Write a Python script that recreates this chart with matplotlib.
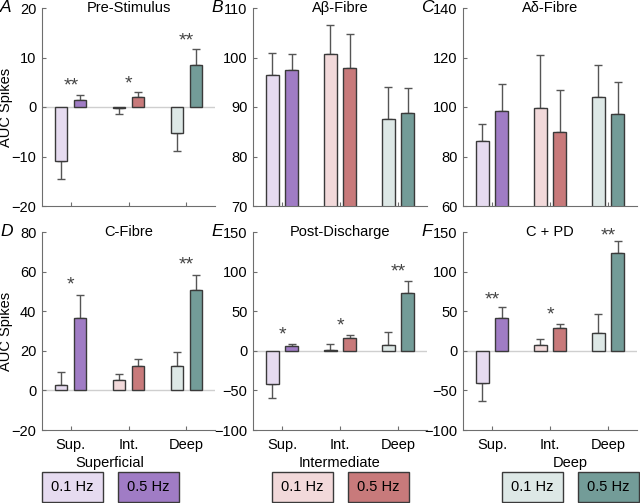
import matplotlib
matplotlib.use('Agg')
import matplotlib.pyplot as plt
import matplotlib.transforms as mtransforms
from matplotlib.patches import Rectangle
import numpy as np

plt.rcParams['font.family'] = ['Liberation Sans', 'DejaVu Sans']

# データ
groups = ['Sup.', 'Int.', 'Deep']
legend_titles = ['Superficial', 'Intermediate', 'Deep']
freqs = ['0.1 Hz', '0.5 Hz']
light_colors = ['#e6dbf0', '#f2d9da', '#dde8e6']
dark_colors = ['#a07cc5', '#c87a7b', '#739c98']

panels = ['A', 'B', 'C', 'D', 'E', 'F']
titles = ['Pre-Stimulus', 'A\u03b2-Fibre', 'A\u03b4-Fibre', 'C-Fibre', 'Post-Discharge', 'C + PD']
ylims = [(-20, 20), (70, 110), (60, 140), (-20, 80), (-100, 150), (-100, 150)]
yticks = [[-20, -10, 0, 10, 20], [70, 80, 90, 100, 110], [60, 80, 100, 120, 140],
          [-20, 0, 20, 40, 60, 80], [-100, -50, 0, 50, 100, 150], [-100, -50, 0, 50, 100, 150]]

# 0.1 Hz / 0.5 Hz の平均と誤差 (Sup., Int., Deep)
mean_01 = [[-10.9, -0.3, -5.3], [96.5, 100.7, 87.6], [86.4, 99.6, 104.0],
           [2.5, 5.4, 12.5], [-42.4, 1.3, 7.6], [-40.3, 6.8, 22.5]]
err_01 = [[3.6, 1.1, 3.5], [4.4, 5.8, 6.5], [6.6, 21.5, 13.0],
          [6.6, 3.0, 6.9], [17.6, 7.2, 15.7], [23.3, 8.0, 23.7]]
mean_05 = [[1.4, 2.1, 8.5], [97.5, 97.8, 88.7], [98.4, 89.9, 97.0],
           [36.4, 12.3, 50.8], [5.9, 16.5, 72.5], [42.0, 28.8, 123.7]]
err_05 = [[1.0, 0.9, 3.3], [3.2, 6.9, 5.1], [10.9, 17.1, 13.0],
          [11.8, 3.6, 7.5], [3.0, 3.4, 16.1], [13.0, 4.7, 15.3]]

# 有意差の星 (panel, group index, label, y)
stars = [(0, 0, '**', 5.3), (0, 1, '*', 5.7), (0, 2, '**', 14.3),
         (3, 0, '*', 55.6), (3, 2, '**', 65.8),
         (4, 0, '*', 25.8), (4, 1, '*', 38.0), (4, 2, '**', 106.0),
         (5, 0, '**', 70.0), (5, 1, '*', 51.0), (5, 2, '**', 151.0)]

W, H = 640, 503
fig = plt.figure(figsize=(W / 100, H / 100), dpi=100)

col_px = [(42, 215), (253, 427), (463, 637)]
row_px = [(8, 206), (232, 430)]

def px_axes(x0, x1, y0, y1):
    return fig.add_axes([x0 / W, 1 - y1 / H, (x1 - x0) / W, (y1 - y0) / H])

edge = '#3a3a3a'
spine_c = '#6e6e6e'
x = np.arange(1, 4)
bw = 0.21
off = 0.165
# アスタリスクはグリフが上寄りなので少し下げる
star_shift = mtransforms.ScaledTranslation(0, -5 / 100, fig.dpi_scale_trans)

for i in range(6):
    r, c = divmod(i, 3)
    x0, x1 = col_px[c]
    ax = px_axes(x0, x1, row_px[r][0], row_px[r][1])
    ax.set_xlim(0.5, 3.5)
    ax.set_ylim(*ylims[i])
    if ylims[i][0] < 0:
        ax.axhline(0, color='#cfcfcf', lw=1, zorder=0)
    for g in range(3):
        m1, e1 = mean_01[i][g], err_01[i][g]
        m2, e2 = mean_05[i][g], err_05[i][g]
        ax.bar(x[g] - off, m1, bw, color=light_colors[g], edgecolor=edge, lw=1, zorder=2)
        ax.bar(x[g] + off, m2, bw, color=dark_colors[g], edgecolor=edge, lw=1, zorder=2)
        for xx, m, e in [(x[g] - off, m1, e1), (x[g] + off, m2, e2)]:
            yerr = [[0], [e]] if m >= 0 else [[e], [0]]
            ax.errorbar(xx, m, yerr=yerr, fmt='none', ecolor='#555555', elinewidth=1,
                        capsize=3, capthick=1, zorder=1)
    for p, g, s, yy in stars:
        if p == i:
            ax.text(x[g], yy, s, ha='center', va='center', fontsize=14, color='#444444',
                    transform=ax.transData + star_shift, clip_on=False)
    ax.set_yticks(yticks[i])
    ax.set_yticklabels([str(t).replace('-', '\u2212') for t in yticks[i]])
    ax.set_xticks(x)
    if r == 1:
        ax.set_xticklabels(groups)
    else:
        ax.set_xticklabels([])
    for s in ['top', 'right']:
        ax.spines[s].set_visible(False)
    for s in ['left', 'bottom']:
        ax.spines[s].set_color(spine_c)
    ax.tick_params(direction='in', length=3, color=spine_c, labelsize=10.5, pad=4)
    ax.tick_params(axis='x', labelsize=10.5, pad=6)
    ax.text(0.5, 1.0, titles[i], transform=ax.transAxes, ha='center', va='center', fontsize=10.5)
    if c == 0:
        ax.set_ylabel('AUC Spikes', fontsize=10.5)
        ax.yaxis.set_label_coords(-29 / (x1 - x0), 0.5)
    fig.text((x0 - 42) / W, 1 - row_px[r][0] / H, panels[i],
             ha='left', va='center', fontsize=12.5, style='italic')

# 凡例ボックス
leg_centers = [110, 340, 570]
for k in range(3):
    cx = leg_centers[k]
    fig.text(cx / W, 1 - 463 / H, legend_titles[k], ha='center', va='center', fontsize=10.5)
    for j, (lab, col) in enumerate(zip(freqs, [light_colors[k], dark_colors[k]])):
        bx0 = cx - 68 + j * 76
        fig.patches.append(Rectangle((bx0 / W, 1 - 502 / H), 61 / W, 30 / H,
                                     transform=fig.transFigure, facecolor=col,
                                     edgecolor=edge, lw=1))
        fig.text((bx0 + 30.5) / W, 1 - 487 / H, lab, ha='center', va='center', fontsize=10.5)

plt.savefig('out.png', dpi=100)
